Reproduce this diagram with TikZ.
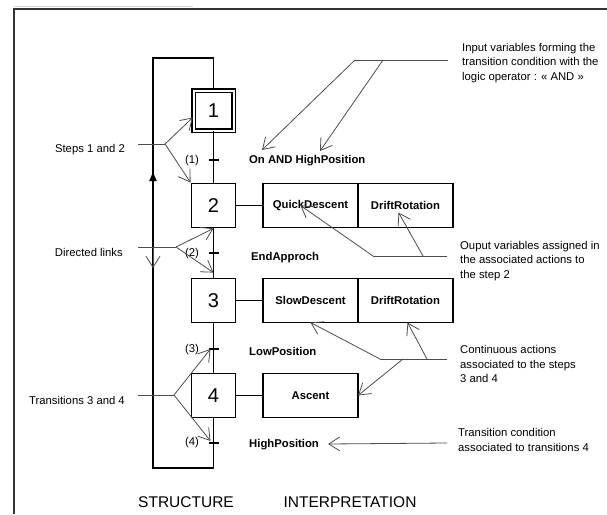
\documentclass[tikz,border=0pt]{standalone}
\usepackage{fontspec}
\setmainfont{Liberation Sans}
\usetikzlibrary{arrows.meta}
\tikzset{
  stepbox/.style={draw, line width=1.8pt, minimum size=44pt, font=\fontsize{20}{20}\selectfont},
  initstep/.style={stepbox, double, double distance=2pt, line width=1.4pt, minimum size=40pt},
  action/.style={draw, line width=1.8pt, minimum width=95pt, minimum height=44pt, outer sep=0pt, anchor=west, font=\fontsize{11.3}{13}\selectfont\bfseries},
  note/.style={align=left, inner sep=0pt, font=\fontsize{11.3}{14.5}\selectfont},
  cond/.style={note, anchor=west, font=\fontsize{11.3}{13}\selectfont\bfseries},
  link/.style={line width=1.8pt},
  callout/.style={draw=black!70, line width=0.8pt},
  pointer/.style={callout, -{Straight Barb[length=11pt,width=14pt]}}
}
\begin{document}
\begin{tikzpicture}[x=1pt, y=-1pt, node distance=95pt]
    \useasboundingbox (0,0) rectangle (607,514);
    % page frame
    \draw[black!15, line width=0.5pt] (14,6) -- (193,6);
    \draw[black!80, line width=1.4pt] (14,514) -- (14,9) -- (607,9);

    % steps
    \node [initstep] (s1) at (213.5,110.5) {1};
    \node [stepbox] (s2) [below of=s1] {2};
    \node [stepbox] (s3) [below of=s2] {3};
    \node [stepbox] (s4) [below of=s3] {4};

    % transitions
    \coordinate (t1) at (213.5,160);
    \coordinate (t2) at (213.5,253);
    \coordinate (t3) at (213.5,349);
    \coordinate (t4) at (213.5,443);
    \draw [link] (s1) -- (s2) (s2) -- (s3) (s3) -- (s4);
    \foreach \t in {t1,t2,t3,t4}
        \draw [link] ([xshift=-5pt]\t) -- ([xshift=5pt]\t);
    \draw [link] (s4) -- (213.5,468) -| (153,58) -| (s1);
    \draw [link, -{Triangle[length=9pt,width=7pt]}] (153,192) -- (153,172);

    \node [note] (n1) at (192,161) {(1)};
    \node [note] (n2) at (192,254) {(2)};
    \node [note] (n3) at (192,350) {(3)};
    \node [note] (n4) at (192,443) {(4)};
    \node [cond] (c1) at (249,161) {On AND HighPosition};
    \node [cond] (c2) at (251,258) {EndApproch};
    \node [cond] (c3) at (249,351) {LowPosition};
    \node [cond] (c4) at (249,445) {HighPosition};

    % actions
    \node [action] (a21) at (263,205.5) {QuickDescent};
    \node [action] (a22) at (a21.east) {DriftRotation};
    \node [action] (a31) at (263,300.5) {SlowDescent};
    \node [action] (a32) at (a31.east) {DriftRotation};
    \node [action] (a4) at (263,395.5) {Ascent};
    \draw [link] (s2) -- (a21);
    \draw [link] (s3) -- (a31);
    \draw [link] (s4) -- (a4);

    % structure notes
    \node [note, anchor=east] (nsteps) at (125,149.5) {Steps 1 and 2};
    \coordinate (jsteps) at (165,144);
    \draw [callout] (138,144) -- (jsteps);
    \draw [pointer] (jsteps) -- ([yshift=-7pt]s1.west);
    \draw [pointer] (jsteps) -- (s2.north west);

    \node [note, anchor=east] (nlinks) at (123,252) {Directed links};
    \coordinate (jlinks) at (176,247);
    \draw [callout] (138,247) -- (jlinks);
    \draw [pointer] (jlinks) -- (s2.south);
    \draw [pointer] (jlinks) -- ([yshift=5pt]s3.north);
    \draw [pointer] (153,247) -- (153,268);

    \node [note, anchor=east] (ntrans) at (125,400) {Transitions 3 and 4};
    \coordinate (jtrans) at (174,395);
    \draw [callout] (138,395) -- (jtrans);
    \draw [pointer] (jtrans) -- ([xshift=-3pt]t3);
    \draw [pointer] (jtrans) -- ([xshift=-3pt,yshift=2pt]t4);

    % interpretation notes
    \node [note, anchor=west] (ninput) at (462,63) {Input variables forming the\\transition condition with the\\logic operator : « AND »};
    \coordinate (jin1) at (355,60);
    \coordinate (jin2) at (383,60);
    \draw [callout] (448,60) -- (jin1);
    \draw [pointer] (jin1) -- ([xshift=13pt,yshift=11pt]c1.west);
    \draw [pointer] (jin2) -- ([xshift=71pt,yshift=10pt]c1.west);

    \node [note, anchor=west] (noutput) at (460,261) {Ouput variables assigned in\\the associated actions to\\the step 2};
    \coordinate (jout1) at (373,256);
    \coordinate (jout2) at (423,256);
    \draw [callout] (447,256) -- (jout1);
    \draw [pointer] (jout1) -- ([xshift=-10pt]a21.center);
    \draw [pointer] (jout2) -- ([xshift=-7pt,yshift=-7pt]a22.center);

    \node [note, anchor=west] (ncont) at (460,364) {Continuous actions\\associated to the steps\\3 and 4};
    \coordinate (jc1) at (380,359);
    \coordinate (jc2) at (403,359);
    \coordinate (jc3) at (427,359);
    \draw [callout] (447,359) -- (jc1);
    \draw [pointer] (jc1) -- (a31.south);
    \draw [pointer] (jc3) -- ([xshift=2pt]a32.south);
    \draw [pointer] (jc2) -- (a4.east);

    \node [note, anchor=west] (ncond) at (458,440) {Transition condition\\associated to transitions 4};
    \coordinate (jcond) at (447,443);
    \draw [pointer] (jcond) -- ([xshift=9pt,yshift=1pt]c4.east);

    % headings
    \node [font=\fontsize{15.5}{16}\selectfont] (structure) at (186,502) {STRUCTURE};
    \node [font=\fontsize{15.5}{16}\selectfont] (interp) at (350,502) {INTERPRETATION};
\end{tikzpicture}
\end{document}
